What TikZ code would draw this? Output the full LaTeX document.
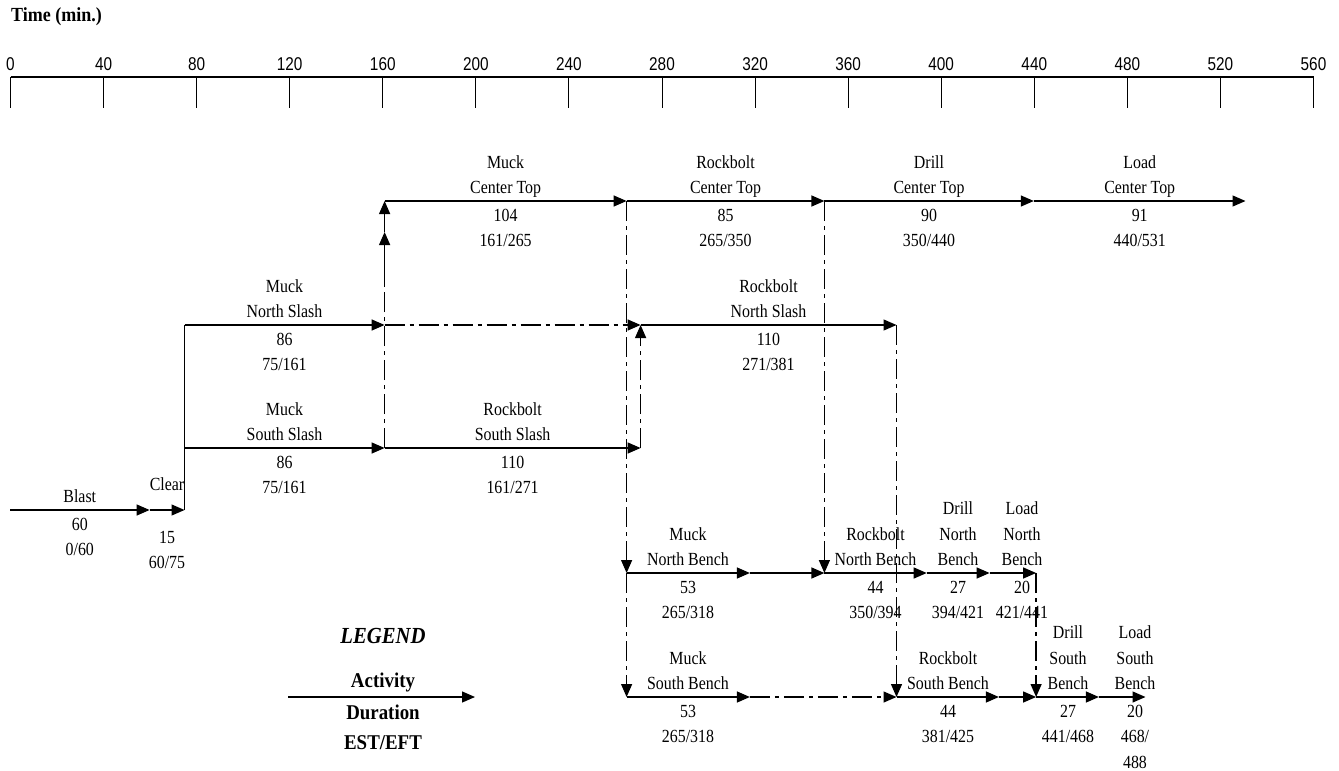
\documentclass[tikz,border=0pt]{standalone}
\usepackage{fontspec}
\usetikzlibrary{arrows.meta}
\newfontfamily\labfont{Liberation Serif}[FakeStretch=0.86]
\newfontfamily\axfont{Liberation Sans}[FakeStretch=0.83]
\newfontfamily\legfont{Liberation Serif}[FakeStretch=0.9]
\tikzset{
  actarrow/.style={line width=1.3pt, -{Triangle[length=13pt,width=11pt]}},
  dumarrow/.style={actarrow, dash pattern=on 20pt off 5pt on 4pt off 5pt},
  dumline/.style={line width=1.3pt, dash pattern=on 20pt off 5pt on 4pt off 5pt},
  plainline/.style={line width=1.3pt},
  lab/.style={font=\labfont\fontsize{18.5}{25.7}\selectfont, align=center, inner sep=0pt},
  axlab/.style={font=\axfont\fontsize{18.5}{22}\selectfont, inner sep=0pt, anchor=base},
  leglab/.style={font=\legfont\bfseries\fontsize{21}{25}\selectfont, inner sep=0pt, anchor=base},
}
\newcommand\actlab[5]{%
  \node[lab,anchor=south] (#1a) at (#2,#3+0.7) {#4};
  \node[lab,anchor=north] (#1b) at (#2,#3+2) {#5};}
\begin{document}
\begin{tikzpicture}[x=1pt,y=-1pt]
\useasboundingbox[fill=white] (0,0) rectangle (1339,771);
% title
\node[font=\legfont\bfseries\fontsize{20}{24}\selectfont, inner sep=0pt, anchor=base west] (title) at (11,21.5) {Time (min.)};
% axis
\coordinate (ax0) at (10.5,77);
\coordinate (ax1) at (1313.5,77);
\draw[line width=1.2pt] (ax0) -- (ax1);
\foreach \t in {0,40,...,560}{
  \pgfmathsetmacro\xx{10.5+2.3268*\t}
  \draw[line width=1pt] (\xx,77) -- (\xx,108);
  \node[axlab] (tk\t) at (\xx,70) {\t};
}
% events
\coordinate (c161) at (384.6,201);
\coordinate (c265) at (626.6,201);
\coordinate (c350) at (824.4,201);
\coordinate (c440) at (1033.8,201);
\coordinate (c531) at (1245.5,201);
\coordinate (n75) at (184.5,325);
\coordinate (n161) at (384.6,325);
\coordinate (n271) at (640.6,325);
\coordinate (n381) at (896.5,325);
\coordinate (s75) at (184.5,448);
\coordinate (s161) at (384.6,448);
\coordinate (s271) at (640.6,448);
\coordinate (b0) at (10,510);
\coordinate (b60) at (149.6,510);
\coordinate (b75) at (184.5,510);
\coordinate (nb265) at (626.6,573);
\coordinate (nb318) at (749.9,573);
\coordinate (nb350) at (824.4,573);
\coordinate (nb394) at (926.7,573);
\coordinate (nb421) at (989.6,573);
\coordinate (nb441) at (1036.1,573);
\coordinate (sb265) at (626.6,697);
\coordinate (sb318) at (749.9,697);
\coordinate (sb381) at (896.5,697);
\coordinate (sb425) at (998.9,697);
\coordinate (sb441) at (1036.1,697);
\coordinate (sb468) at (1098.9,697);
\coordinate (sb488) at (1145.5,697);
\coordinate (v1) at (384.6,285);
\coordinate (v2) at (384.6,232);
\coordinate (lg1) at (288,697);
\coordinate (lg2) at (475,697);
% activities
\draw[actarrow] (b0) -- (b60);
\draw[actarrow] (b60) -- (b75);
\draw[plainline] (b75) -- (n75);
\draw[actarrow] (n75) -- (n161);
\draw[actarrow] (s75) -- (s161);
\draw[actarrow] (s161) -- (s271);
\draw[dumline] (s161) -- (v1);
\draw[actarrow] (v1) -- (v2);
\draw[actarrow] (v2) -- (c161);
\draw[actarrow] (c161) -- (c265);
\draw[actarrow] (c265) -- (c350);
\draw[actarrow] (c350) -- (c440);
\draw[actarrow] (c440) -- (c531);
\draw[dumarrow] (n161) -- (n271);
\draw[actarrow] (n271) -- (n381);
\draw[dumarrow] (s271) -- (n271);
\draw[dumarrow] (c265) -- (nb265);
\draw[dumarrow] (nb265) -- (sb265);
\draw[actarrow] (nb265) -- (nb318);
\draw[actarrow] (nb318) -- (nb350);
\draw[dumarrow] (c350) -- (nb350);
\draw[actarrow] (nb350) -- (nb394);
\draw[actarrow] (nb394) -- (nb421);
\draw[actarrow] (nb421) -- (nb441);
\draw[dumarrow] (nb441) -- (sb441);
\draw[actarrow] (sb265) -- (sb318);
\draw[dumarrow] (sb318) -- (sb381);
\draw[dumarrow] (n381) -- (sb381);
\draw[actarrow] (sb381) -- (sb425);
\draw[actarrow] (sb425) -- (sb441);
\draw[actarrow] (sb441) -- (sb468);
\draw[actarrow] (sb468) -- (sb488);
% labels
\actlab{bl}{79.8}{510}{\strut Blast}{\strut 60\\\strut 0/60}
\node[lab,anchor=south] (clra) at (167,498.7) {\strut Clear};
\node[lab,anchor=north] (clrb) at (167,525) {\strut 15\\\strut 60/75};
\actlab{mns}{284.5}{325}{\strut Muck\\\strut North Slash}{\strut 86\\\strut 75/161}
\actlab{mss}{284.5}{448}{\strut Muck\\\strut South Slash}{\strut 86\\\strut 75/161}
\actlab{rss}{512.6}{448}{\strut Rockbolt\\\strut South Slash}{\strut 110\\\strut 161/271}
\actlab{mct}{505.6}{201}{\strut Muck\\\strut Center Top}{\strut 104\\\strut 161/265}
\actlab{rct}{725.5}{201}{\strut Rockbolt\\\strut Center Top}{\strut 85\\\strut 265/350}
\actlab{dct}{929}{201}{\strut Drill\\\strut Center Top}{\strut 90\\\strut 350/440}
\actlab{lct}{1139.7}{201}{\strut Load\\\strut Center Top}{\strut 91\\\strut 440/531}
\actlab{rns}{768.5}{325}{\strut Rockbolt\\\strut North Slash}{\strut 110\\\strut 271/381}
\actlab{mnb}{688}{573}{\strut Muck\\\strut North Bench}{\strut 53\\\strut 265/318}
\actlab{rnb}{875.5}{573}{\strut Rockbolt\\\strut North Bench}{\strut 44\\\strut 350/394}
\actlab{dnb}{958}{573}{\strut Drill\\\strut North\\\strut Bench}{\strut 27\\\strut 394/421}
\actlab{lnb}{1022}{573}{\strut Load\\\strut North\\\strut Bench}{\strut 20\\\strut 421/441}
\actlab{msb}{688}{697}{\strut Muck\\\strut South Bench}{\strut 53\\\strut 265/318}
\actlab{rsb}{948}{697}{\strut Rockbolt\\\strut South Bench}{\strut 44\\\strut 381/425}
\actlab{dsb}{1068}{697}{\strut Drill\\\strut South\\\strut Bench}{\strut 27\\\strut 441/468}
\actlab{lsb}{1135}{697}{\strut Load\\\strut South\\\strut Bench}{\strut 20\\\strut 468/\\\strut 488}
% legend
\node[leglab, font=\legfont\bfseries\itshape\fontsize{23}{27}\selectfont] (legt) at (383,643) {LEGEND};
\draw[actarrow] (lg1) -- (lg2);
\node[leglab] (lega) at (383,687) {Activity};
\node[leglab] (legd) at (383,719) {Duration};
\node[leglab] (lege) at (383,749.5) {EST/EFT};
\end{tikzpicture}
\end{document}
